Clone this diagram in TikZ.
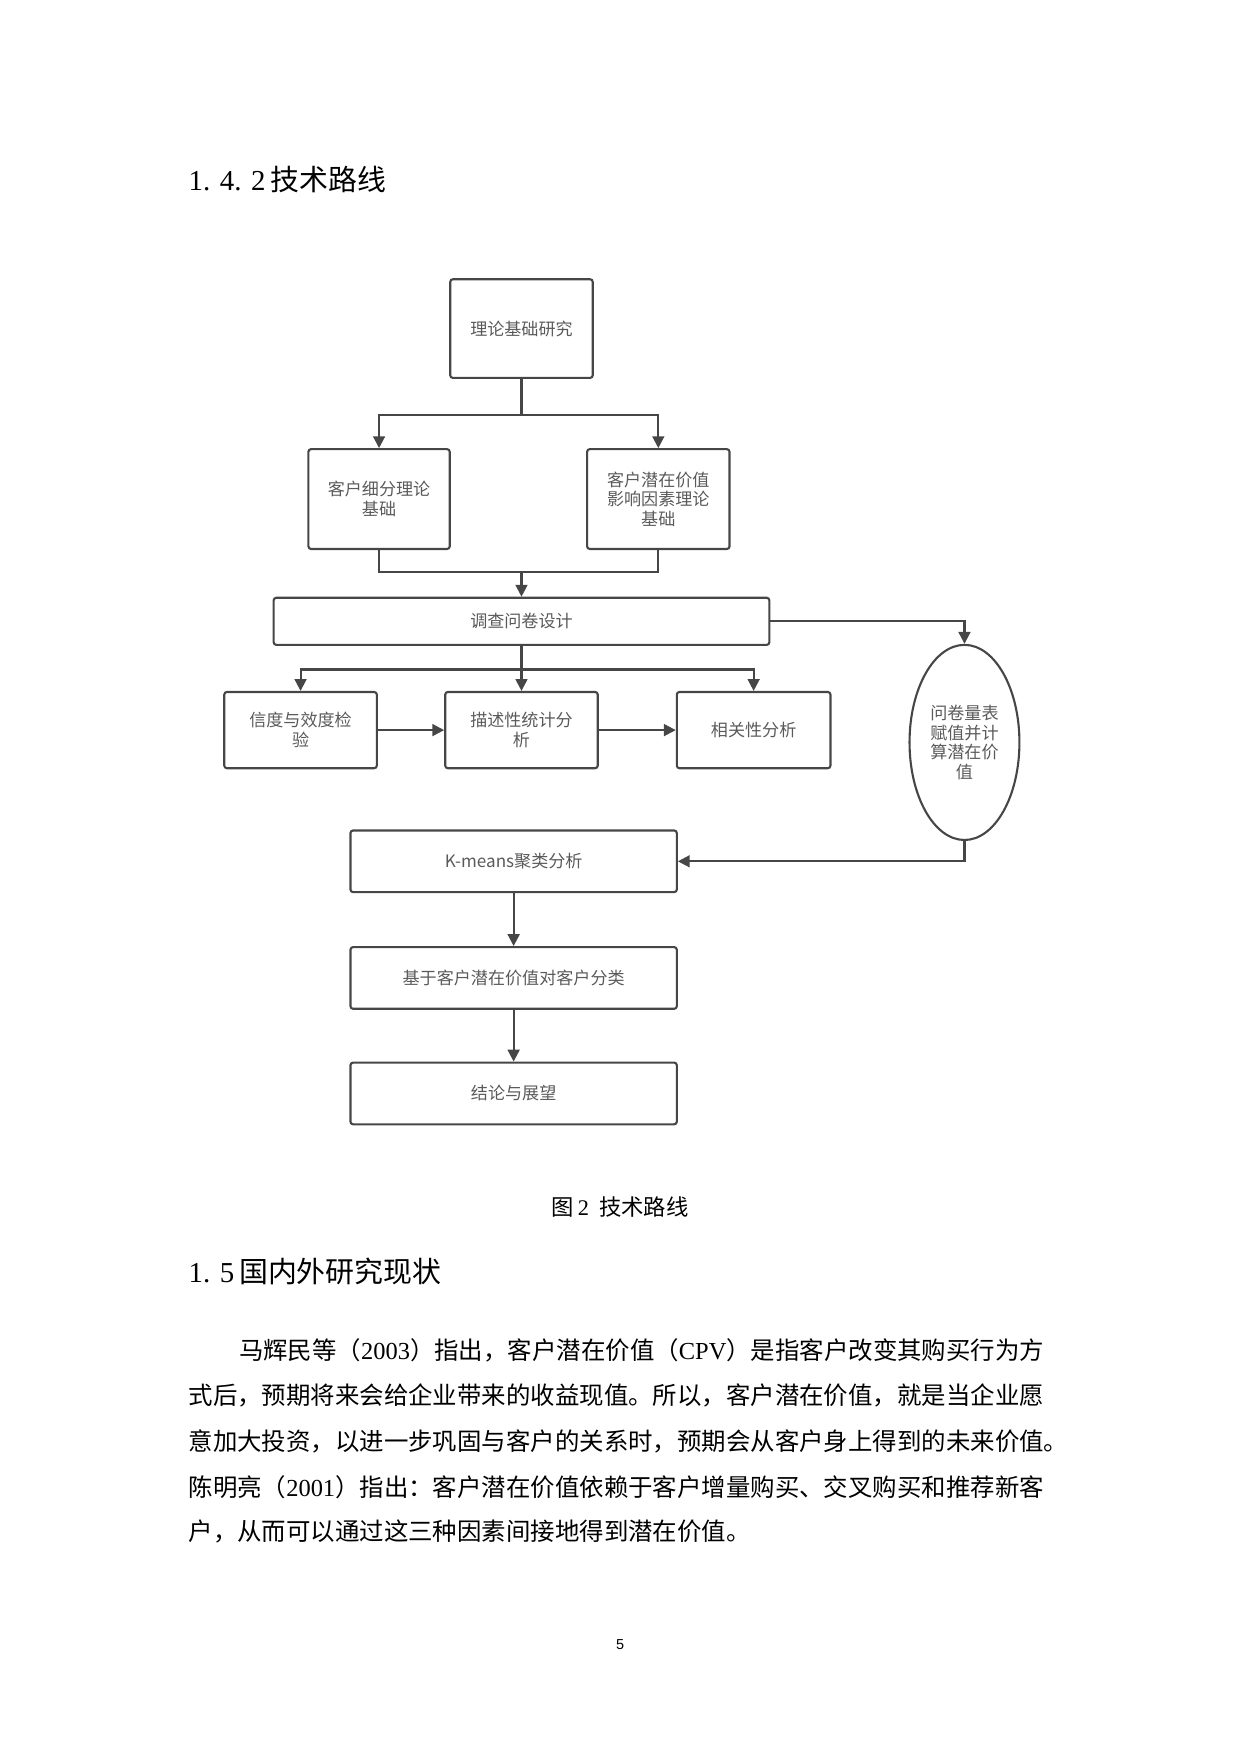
\documentclass[tikz,border=0pt]{standalone}
\usepackage{fontspec}
\setmainfont{Liberation Serif}
\newfontfamily\cjk{Noto Sans CJK SC}
\newfontfamily\dsans{Liberation Sans}
\usetikzlibrary{arrows.meta,shapes.geometric}
\definecolor{ln}{RGB}{70,70,70}
\definecolor{tx}{RGB}{90,90,90}
\begin{document}
\begin{tikzpicture}[x=0.03cm,y=-0.03cm,
  box/.style={draw=ln,line width=1.6pt,rounded corners=2pt,align=center,font=\cjk\fontsize{13}{15}\selectfont,text=tx,inner sep=0pt},
  ar/.style={draw=ln,line width=1.6pt,-{Triangle[length=9pt,width=9pt]}},
  ln/.style={draw=ln,line width=1.6pt}]
\useasboundingbox (0,0) rectangle (1106,1564);
\node[anchor=west,font=\fontsize{22}{26}\selectfont] (h1) at (164,160) {1.\,\,4.\,\,2\,{\cjk 技术路线}};
\node[box,minimum width=127*0.03cm,minimum height=88*0.03cm] (A) at (465,293) {理论基础研究};
\node[box,minimum width=126*0.03cm,minimum height=89*0.03cm] (B1) at (338,445) {客户细分理论\\基础};
\node[box,minimum width=127*0.03cm,minimum height=89*0.03cm] (B2) at (587,445) {客户潜在价值\\影响因素理论\\基础};
\node[box,minimum width=442*0.03cm,minimum height=42*0.03cm] (C) at (465,554) {调查问卷设计};
\node[box,minimum width=136*0.03cm,minimum height=68*0.03cm] (D1) at (268,651) {信度与效度检\\验};
\node[box,minimum width=136*0.03cm,minimum height=68*0.03cm] (D2) at (465,651) {描述性统计分\\析};
\node[box,minimum width=137*0.03cm,minimum height=68*0.03cm] (D3) at (672,651) {相关性分析};
\node[box,ellipse,minimum width=98*0.03cm,minimum height=174*0.03cm] (Q) at (860,662) {问卷量表\\赋值并计\\算潜在价\\值};
\node[box,minimum width=291*0.03cm,minimum height=55*0.03cm] (E) at (458,768) {K-means聚类分析};
\node[box,minimum width=291*0.03cm,minimum height=55*0.03cm] (F) at (458,872) {基于客户潜在价值对客户分类};
\node[box,minimum width=291*0.03cm,minimum height=55*0.03cm] (G) at (458,975) {结论与展望};
\coordinate (s1) at (465,370);
\draw[ln] (A.south) -- (s1);
\draw[ar] (s1) -| (B1.north);
\draw[ar] (s1) -| (B2.north);
\coordinate (m1) at (465,510);
\draw[ln] (B1.south) |- (m1);
\draw[ln] (B2.south) |- (m1);
\draw[ar] (m1) -- (C.north);
\coordinate (s2) at (465,597);
\draw[ln] (C.south) -- (s2);
\draw[ar] (s2) -| (D1.north);
\draw[ar] (s2) -- (D2.north);
\draw[ar] (s2) -| (D3.north);
\draw[ar] (D1) -- (D2);
\draw[ar] (D2) -- (D3);
\draw[ar] (C.east) -| (Q.north);
\draw[ar] (Q.south) |- (E.east);
\draw[ar] (E) -- (F);
\draw[ar] (F) -- (G);
\node[font=\cjk\fontsize{17}{20}\selectfont] (cap) at (553,1076) {图\,{\rmfamily 2}\ \ 技术路线};
\node[anchor=west,font=\fontsize{22}{26}\selectfont] (h2) at (164,1134) {1.\,\,5\,{\cjk 国内外研究现状}};
\begin{scope}[every node/.style={anchor=west,font=\cjk\fontsize{18.6}{22}\selectfont}]
\node (p1) at (209,1204) {马辉民等（{\rmfamily 2003}）指出，客户潜在价值（{\rmfamily CPV}）是指客户改变其购买行为方};
\node (p2) at (164,1244) {式后，预期将来会给企业带来的收益现值。所以，客户潜在价值，就是当企业愿};
\node (p3) at (164,1285) {意加大投资，以进一步巩固与客户的关系时，预期会从客户身上得到的未来价值。};
\node (p4) at (164,1326) {陈明亮（{\rmfamily 2001}）指出：客户潜在价值依赖于客户增量购买、交叉购买和推荐新客};
\node (p5) at (164,1366) {户，从而可以通过这三种因素间接地得到潜在价值。};
\end{scope}
\node[font=\dsans\fontsize{11}{13}\selectfont] (pg) at (553,1466) {5};
\end{tikzpicture}
\end{document}
